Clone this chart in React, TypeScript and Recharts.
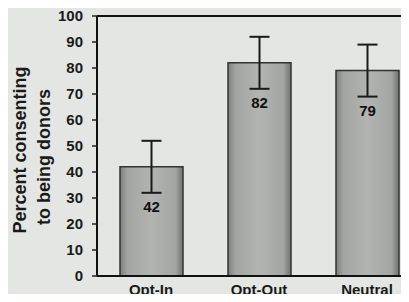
import {
  BarChart,
  Bar,
  XAxis,
  YAxis,
  ErrorBar,
  LabelList,
  ReferenceLine,
  Label,
} from "recharts";

const conditions = ["Opt-In", "Opt-Out", "Neutral"];
const percents = [42, 82, 79];
const errors = [10, 10, 10];
const yTicks = [0, 10, 20, 30, 40, 50, 60, 70, 80, 90, 100];

const data = conditions.map((name, i) => ({
  name,
  value: percents[i],
  err: errors[i],
}));

const font = "'Liberation Sans', Arial, sans-serif";

const AxisTitle = (props: any) => {
  const { viewBox } = props;
  const cy = viewBox.y + viewBox.height / 2;
  return (
    <g>
      <text
        x={20}
        y={cy + 4}
        transform={`rotate(-90, 20, ${cy + 4})`}
        textAnchor="middle"
        dominantBaseline="central"
        fontFamily={font}
        fontWeight="bold"
        fontSize={18}
        fill="#1a1a1a"
      >
        Percent consenting
      </text>
      <text
        x={44}
        y={cy + 11}
        transform={`rotate(-90, 44, ${cy + 11})`}
        textAnchor="middle"
        dominantBaseline="central"
        fontFamily={font}
        fontWeight="bold"
        fontSize={18}
        fill="#1a1a1a"
      >
        to being donors
      </text>
    </g>
  );
};

const ValueLabel = (props: any) => {
  const { x, y, width, value } = props;
  return (
    <text
      x={x + width / 2}
      y={y + 40}
      textAnchor="middle"
      dominantBaseline="central"
      fontFamily={font}
      fontWeight="bold"
      fontSize={15}
      fill="#111"
    >
      {value}
    </text>
  );
};

export default function App() {
  return (
    <div
      style={{
        margin: -8,
        width: 409,
        height: 302,
        overflow: "hidden",
        background: "#e3e6e3",
      }}
    >
      <BarChart
        width={425}
        height={302}
        data={data}
        margin={{ top: 16, right: 4, left: 0, bottom: 0 }}
      >
        <defs>
          <linearGradient id="barFill" x1="0" y1="0" x2="1" y2="0">
            <stop offset="0%" stopColor="#7d7f7c" />
            <stop offset="12%" stopColor="#a3a5a2" />
            <stop offset="50%" stopColor="#b2b4b1" />
            <stop offset="88%" stopColor="#a3a5a2" />
            <stop offset="100%" stopColor="#6f716e" />
          </linearGradient>
        </defs>
        <XAxis
          dataKey="name"
          height={26}
          tickLine={false}
          tickMargin={2}
          axisLine={{ stroke: "#111", strokeWidth: 2 }}
          tick={{ fontFamily: font, fontWeight: "bold", fontSize: 15, fill: "#1a1a1a" }}
        />
        <YAxis
          width={97}
          domain={[0, 100]}
          ticks={yTicks}
          interval={0}
          tickSize={5}
          tickMargin={9}
          axisLine={{ stroke: "#111", strokeWidth: 2 }}
          tickLine={{ stroke: "#222", strokeWidth: 1.5 }}
          tick={{ fontFamily: font, fontWeight: "bold", fontSize: 15, fill: "#1a1a1a" }}
        >
          <Label content={<AxisTitle />} />
        </YAxis>
        <ReferenceLine y={100} stroke="#111" strokeWidth={2} ifOverflow="visible" />
        <Bar
          dataKey="value"
          barSize={63}
          fill="url(#barFill)"
          stroke="#333"
          strokeWidth={1.5}
          isAnimationActive={false}
        >
          <ErrorBar dataKey="err" width={10} stroke="#1a1a1a" strokeWidth={2} />
          <LabelList dataKey="value" content={<ValueLabel />} />
        </Bar>
      </BarChart>
    </div>
  );
}
